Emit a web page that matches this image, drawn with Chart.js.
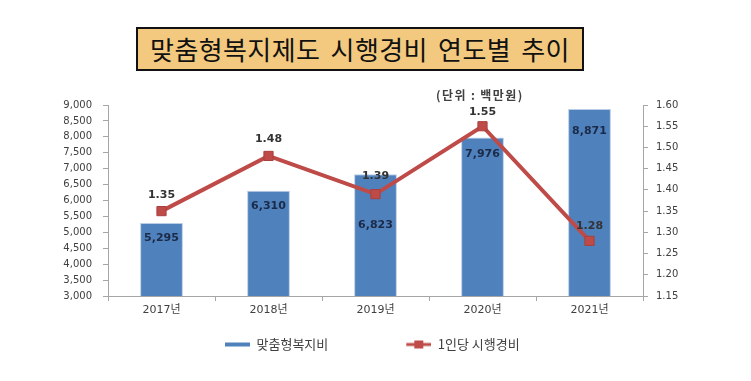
<!DOCTYPE html>
<html>
<head>
<meta charset="utf-8">
<script src="https://cdn.jsdelivr.net/npm/chart.js@4.4.0/dist/chart.umd.min.js"></script>
<style>
  html, body { margin: 0; padding: 0; background: #fff; }
  #wrap { position: relative; width: 751px; height: 381px; overflow: hidden; }
  #c { position: absolute; left: 0; top: 0; }
  #title {
    position: absolute; left: 136px; top: 27px; width: 444px; height: 40px;
    border: 2px solid #111; background: #F2C97E;
    font-family: "Noto Sans CJK KR", sans-serif; font-size: 26px; color: #111;
    text-align: center; line-height: 40px; letter-spacing: 0.4px; word-spacing: 4px; white-space: nowrap;
  }
  #unit {
    position: absolute; left: 436px; top: 86px;
    font-family: "Noto Sans CJK KR", sans-serif; font-size: 12px; font-weight: bold; color: #404040;
    letter-spacing: 1.4px;
  }
</style>
</head>
<body>
<div id="wrap">
  <canvas id="c" width="751" height="381"></canvas>
  <div id="title">맞춤형복지제도 시행경비 연도별 추이</div>
  <div id="unit">(단위 : 백만원)</div>
</div>
<script>
const categories = ["2017년", "2018년", "2019년", "2020년", "2021년"];
const welfareCost = [5295, 6310, 6823, 7976, 8871];
const perCapitaCost = [1.35, 1.48, 1.39, 1.55, 1.28];
const seriesNames = ["맞춤형복지비", "1인당 시행경비"];

const BLUE = "#4F81BD";
const RED = "#BE4B48";
const G = 68;            // legend swatch lead space
const LEG_PAD = 10;
const LEG_FIRST_X = 225; // where the first legend swatch starts
const barLabelOffset = [15, 16, 51, 17, 22];
const lineLabelOffset = [16, 17, 18, 14, 15];

function swatch(kind) {
  const cv = document.createElement("canvas");
  cv.width = G + 25; cv.height = 10;
  const x = cv.getContext("2d");
  if (kind === "bar") {
    x.fillStyle = BLUE; x.fillRect(G, 3, 25, 4);
  } else {
    x.fillStyle = RED; x.fillRect(G, 3.5, 25, 3);
    x.fillRect(G + 8, 1, 9, 8);
  }
  return cv;
}
const swatches = [swatch("bar"), swatch("line")];

const legendShift = {
  id: "legendShift",
  afterLayout(chart) {
    const lg = chart.legend;
    if (!lg || !lg.lineWidths) return;
    const x0 = (lg.left + LEG_PAD + lg.right - lg.lineWidths[0]) / 2;
    const d = LEG_FIRST_X - G - x0;
    lg.left += d; lg.right += d;
  }
};

const labelPlugin = {
  id: "valueLabels",
  afterDatasetsDraw(chart) {
    const ctx = chart.ctx;
    ctx.save();
    ctx.textAlign = "center";
    ctx.textBaseline = "middle";
    ctx.font = "bold 11px 'DejaVu Sans'";
    const barMeta = chart.getDatasetMeta(1);
    barMeta.data.forEach((el, i) => {
      ctx.fillStyle = "#1B2A47";
      ctx.fillText(welfareCost[i].toLocaleString("en-US"), el.x, el.y + barLabelOffset[i]);
    });
    const lineMeta = chart.getDatasetMeta(0);
    lineMeta.data.forEach((el, i) => {
      ctx.fillStyle = "#333333";
      ctx.fillText(perCapitaCost[i].toFixed(2), el.x, el.y - lineLabelOffset[i]);
    });
    ctx.restore();
  }
};

const tickFont = { family: "'DejaVu Sans', 'Noto Sans CJK KR'", size: 10 };

new Chart(document.getElementById("c"), {
  data: {
    labels: categories,
    datasets: [
      {
        type: "line",
        label: seriesNames[1],
        data: perCapitaCost,
        yAxisID: "y1",
        borderColor: RED,
        backgroundColor: RED,
        borderWidth: 4,
        pointStyle: "rect",
        pointRadius: 6.5,
        pointBackgroundColor: RED,
        pointBorderColor: "#A8403D",
        pointBorderWidth: 1,
        order: 0
      },
      {
        type: "bar",
        label: seriesNames[0],
        data: welfareCost,
        yAxisID: "y",
        backgroundColor: BLUE,
        borderColor: "#B9CDE5",
        borderWidth: 1,
        borderSkipped: "bottom",
        categoryPercentage: 1,
        barPercentage: 0.4,
        order: 1
      }
    ]
  },
  options: {
    responsive: false,
    animation: false,
    devicePixelRatio: 1,
    layout: { padding: { top: 105, left: 0, right: 0, bottom: 20 } },
    plugins: {
      tooltip: { enabled: false },
      legend: {
        position: "bottom",
        labels: {
          usePointStyle: true,
          pointStyleWidth: G + 25,
          padding: LEG_PAD,
          color: "#404040",
          font: { family: "'Noto Sans CJK KR'", size: 13 },
          generateLabels() {
            return [
              { text: seriesNames[0], pointStyle: swatches[0], fontColor: "#404040", datasetIndex: 1, hidden: false, lineWidth: 0 },
              { text: seriesNames[1], pointStyle: swatches[1], fontColor: "#404040", datasetIndex: 0, hidden: false, lineWidth: 0 }
            ];
          }
        }
      }
    },
    scales: {
      x: {
        offset: true,
        grid: { offset: true, drawOnChartArea: false, drawTicks: true, tickLength: 5, color: "#A6A6A6" },
        border: { display: true, color: "#A6A6A6" },
        ticks: { color: "#404040", font: { family: tickFont.family, size: 11 }, padding: 3 },
        afterFit(s) { s.height = 32; }
      },
      y: {
        position: "left",
        min: 3000, max: 9000,
        grid: { drawOnChartArea: false, drawTicks: true, tickLength: 5, color: "#A6A6A6" },
        border: { display: true, color: "#A6A6A6" },
        ticks: {
          stepSize: 500, color: "#404040", font: tickFont, padding: 11,
          callback: v => v.toLocaleString("en-US")
        },
        afterFit(s) { s.width = 108; }
      },
      y1: {
        position: "right",
        min: 1.15, max: 1.60,
        grid: { drawOnChartArea: false, drawTicks: true, tickLength: 5, color: "#A6A6A6" },
        border: { display: true, color: "#A6A6A6" },
        ticks: {
          stepSize: 0.05, color: "#404040", font: tickFont, padding: 8,
          callback: v => v.toFixed(2)
        },
        afterFit(s) { s.width = 108; }
      }
    }
  },
  plugins: [labelPlugin, legendShift]
});
</script>
</body>
</html>
